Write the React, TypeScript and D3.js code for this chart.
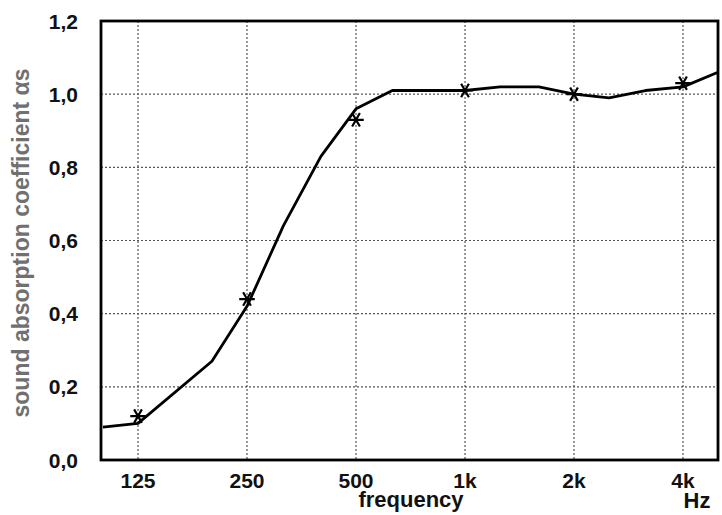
import { line, scaleLinear, scaleLog, symbol, symbolAsterisk, curveLinear } from "d3";

const curveFreqs = [100, 125, 200, 250, 315, 400, 500, 630, 1000, 1250, 1600, 2000, 2500, 3150, 4000, 5000];
const curveValues = [0.09, 0.1, 0.27, 0.42, 0.64, 0.83, 0.96, 1.01, 1.01, 1.02, 1.02, 1.0, 0.99, 1.01, 1.02, 1.06];

const measuredFreqs = [125, 250, 500, 1000, 2000, 4000];
const measuredValues = [0.12, 0.44, 0.93, 1.01, 1.0, 1.03];

const xTickValues = [125, 250, 500, 1000, 2000, 4000];
const xTickLabels = ["125", "250", "500", "1k", "2k", "4k"];
const yTickValues = [0, 0.2, 0.4, 0.6, 0.8, 1.0, 1.2];

type Pt = { f: number; v: number };

export default function App() {
  const width = 722;
  const height = 515;
  const plot = { left: 101, right: 718, top: 21, bottom: 460 };

  // octave spacing: 125 Hz at 138px, 4 kHz at 683px
  const x = scaleLog().domain([125, 4000]).range([138, 683]);
  const y = scaleLinear().domain([0, 1.2]).range([plot.bottom, plot.top]);

  const pts: Pt[] = curveFreqs.map((f, i) => ({ f, v: curveValues[i] }));
  const path =
    line<Pt>()
      .x((p) => Math.min(plot.right, Math.max(plot.left, x(p.f))))
      .y((p) => y(p.v))
      .curve(curveLinear)(pts) ?? "";

  const star = symbol().type(symbolAsterisk).size(170)() ?? "";

  const font = "Liberation Sans, Arial, sans-serif";

  return (
    <svg
      width={width}
      height={height}
      style={{ position: "absolute", left: 0, top: 0, background: "#fff" }}
      fontFamily={font}
    >
      <rect x={0} y={0} width={width} height={height} fill="#fff" />
      <g stroke="#555" strokeWidth={1.2} strokeDasharray="2,2">
        {xTickValues.map((f) => (
          <line key={`vx-${f}`} x1={x(f)} x2={x(f)} y1={plot.top} y2={plot.bottom} />
        ))}
        {yTickValues.slice(1, -1).map((v) => (
          <line key={`hy-${v}`} x1={plot.left} x2={plot.right} y1={y(v)} y2={y(v)} />
        ))}
      </g>
      <rect
        x={plot.left}
        y={plot.top}
        width={plot.right - plot.left}
        height={plot.bottom - plot.top}
        fill="none"
        stroke="#000"
        strokeWidth={2.8}
      />
      <path d={path} fill="none" stroke="#000" strokeWidth={2.8} strokeLinejoin="round" />
      {measuredFreqs.map((f, i) => (
        <path
          key={`m-${f}`}
          d={star}
          transform={`translate(${x(f)},${y(measuredValues[i])}) rotate(90)`}
          fill="none"
          stroke="#000"
          strokeWidth={2.2}
        />
      ))}
      <g fontWeight="bold" fontSize={21} fill="#111">
        {yTickValues.map((v) => (
          <text key={`yt-${v}`} x={78} y={y(v)} dy="0.36em" textAnchor="end">
            {v.toFixed(1).replace(".", ",")}
          </text>
        ))}
        {xTickValues.map((f, i) => (
          <text key={`xt-${f}`} x={x(f)} y={488} textAnchor="middle">
            {xTickLabels[i]}
          </text>
        ))}
        <text x={411} y={507} textAnchor="middle" fontSize={22}>
          frequency
        </text>
        <text x={697} y={508} textAnchor="middle" fontSize={22}>
          Hz
        </text>
      </g>
      <text
        transform={`translate(29,243) rotate(-90)`}
        textAnchor="middle"
        fontWeight="bold"
        fontSize={23}
        fill="#707070"
      >
        sound absorption coefficient αs
      </text>
    </svg>
  );
}
